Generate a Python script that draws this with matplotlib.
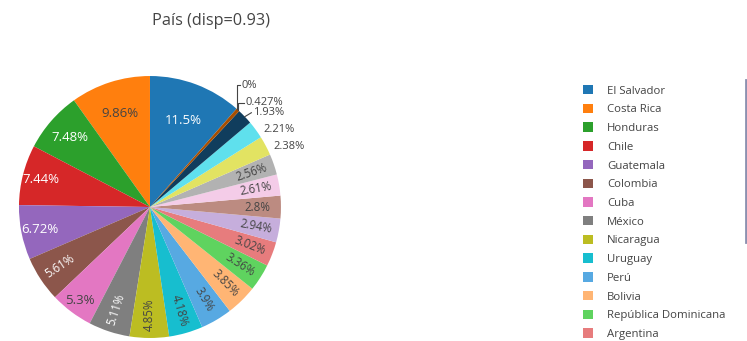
import colorsys
import matplotlib.pyplot as plt
import matplotlib.colors as mcolors
from matplotlib.patches import Patch
from matplotlib.lines import Line2D
import numpy as np

plt.rcParams['font.family'] = ['Open Sans', 'DejaVu Sans']

titulo = 'País (disp=0.93)'
paises = ['El Salvador', 'Costa Rica', 'Honduras', 'Chile', 'Guatemala',
          'Colombia', 'Cuba', 'México', 'Nicaragua', 'Uruguay', 'Perú',
          'Bolivia', 'República Dominicana', 'Argentina']
porcentajes = [11.5, 9.86, 7.48, 7.44, 6.72, 5.61, 5.3, 5.11, 4.85, 4.18,
               3.9, 3.85, 3.36, 3.02, 2.94, 2.8, 2.61, 2.56, 2.38, 2.21,
               1.93, 0.427, 0]

# paleta base y sus versiones aclaradas / oscurecidas
base = ['#1f77b4', '#ff7f0e', '#2ca02c', '#d62728', '#9467bd',
        '#8c564b', '#e377c2', '#7f7f7f', '#bcbd22', '#17becf']


def ajustar(c, d):
    r, g, b = mcolors.to_rgb(c)
    h, l, s = colorsys.rgb_to_hls(r, g, b)
    l = min(1, max(0, l + d))
    return colorsys.hls_to_rgb(h, l, s)


def brillo(c):
    r, g, b = [v * 255 for v in mcolors.to_rgb(c)]
    return (r * 299 + g * 587 + b * 114) / 1000


colores = base + [ajustar(c, 0.2) for c in base] + [ajustar(c, -0.2) for c in base]
colores = colores[:len(porcentajes)]

fig = plt.figure(figsize=(7.47, 3.41), dpi=100)
ax = fig.add_axes([0.0254, 0.0088, 0.3507, 0.7683])

total = sum(porcentajes)
inicio = 90 - porcentajes[0] / total * 360
wedges, _ = ax.pie(porcentajes, colors=colores, startangle=inicio,
                   counterclock=True, radius=1, wedgeprops=dict(linewidth=0))
ax.set_xlim(-1, 1)
ax.set_ylim(-1, 1)
ax.set_aspect('equal')
ax.axis('off')

# etiquetas horizontales para las porciones grandes
r_horiz = {0: 0.71, 1: 0.75, 2: 0.81, 3: 0.86, 4: 0.86, 6: 0.89}
# etiquetas fuera del pastel: desplazamiento respecto al borde
fuera = {18: (0.06, -0.005), 19: (0.06, 0.0), 20: (0.06, 0.03),
         21: (0.06, 0.055), 22: (0.04, 0.18)}

for i, (w, v) in enumerate(zip(wedges, porcentajes)):
    txt = f'{v:.3g}%'
    ang = np.deg2rad((w.theta1 + w.theta2) / 2)
    cx, cy = np.cos(ang), np.sin(ang)
    if i in fuera:
        dx, dy = fuera[i]
        tx, ty = cx + dx, cy + dy
        if dy > 0.04:
            ax.plot([cx, cx, tx - 0.015], [cy, ty, ty], color='#444444', lw=0.8)
        elif dy > 0.01:
            ax.plot([cx, tx - 0.01], [cy, ty], color='#444444', lw=0.8)
        ax.text(tx, ty, txt, ha='left', va='center', fontsize=8, color='#444444')
        continue
    color_txt = '#444444' if brillo(colores[i]) >= 128 else 'white'
    if i in r_horiz:
        r = r_horiz[i]
        ax.text(r * cx, r * cy, txt, ha='center', va='center', fontsize=9.5,
                color=color_txt)
    else:
        r = 0.82
        rot = np.rad2deg(ang) % 180
        if rot > 90:
            rot -= 180
        ax.text(r * cx, r * cy, txt, ha='center', va='center', fontsize=8.3,
                color=color_txt, rotation=rot, rotation_mode='anchor')

fig.text(211 / 747, 1 - 21 / 341, titulo, ha='center', va='center',
         fontsize=11.7, color='#444444')

handles = [Patch(facecolor=colores[i], edgecolor='none') for i in range(len(paises))]
fig.legend(handles, paises, loc='upper left', bbox_to_anchor=(583 / 747, 1 - 85 / 341),
           frameon=False, fontsize=8.2, handlelength=0.9, handleheight=0.9,
           handletextpad=1.2, labelspacing=0.62, borderpad=0, borderaxespad=0,
           labelcolor='#444444')

# barra de desplazamiento de la leyenda
fig.add_artist(Line2D([745.5 / 747, 745.5 / 747], [1 - 80 / 341, 1 - 242 / 341],
                      transform=fig.transFigure, color='#8c90b0', lw=2))

fig.savefig('out.png', dpi=100, facecolor='white')
